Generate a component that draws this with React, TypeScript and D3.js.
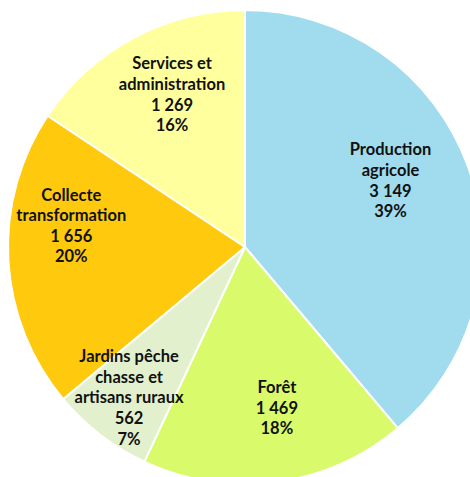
import React from "react";
import * as d3 from "d3";

const categories = [
  "Production agricole",
  "Forêt",
  "Jardins pêche chasse et artisans ruraux",
  "Collecte transformation",
  "Services et administration",
];
const labelLines = [
  ["Production", "agricole"],
  ["Forêt"],
  ["Jardins pêche", "chasse et", "artisans ruraux"],
  ["Collecte", "transformation"],
  ["Services et", "administration"],
];
const values = [3149, 1469, 562, 1656, 1269];
const colors = ["#A0DCEE", "#D9FB6B", "#E3F0CD", "#FFC90E", "#FFFF9E"];

const W = 470;
const H = 477;
const cx = 245;
const cy = 247;
const R = 237;
const labelRadius = [160, 164, 190, 175, 169];
const labelAngleOffset = [-4.5, -3.7, 0, 10.1, 2.6];

const fmt = d3.formatLocale({ decimal: ",", thousands: " ", grouping: [3], currency: ["", "€"] }).format(",d");

export default function App() {
  const total = d3.sum(values);
  const pie = d3.pie<number>().sort(null).value((d) => d)(values);
  const arc = d3.arc<d3.PieArcDatum<number>>().innerRadius(0).outerRadius(R);
  const lineH = 20.6;
  return (
    <svg width={W} height={H} style={{ position: "absolute", left: 0, top: 0 }}>
      <g transform={`translate(${cx},${cy})`}>
        {pie.map((p, i) => (
          <path key={i} d={arc(p) || ""} fill={colors[i]} stroke="#fff" strokeWidth={2} />
        ))}
        {pie.map((p, i) => {
          const a = (p.startAngle + p.endAngle) / 2 + (labelAngleOffset[i] * Math.PI) / 180;
          const r = labelRadius[i];
          const x = Math.sin(a) * r;
          const y = -Math.cos(a) * r;
          const lines = [...labelLines[i], fmt(values[i]), Math.round((values[i] / total) * 100) + "%"];
          const y0 = y - ((lines.length - 1) * lineH) / 2;
          return (
            <text
              key={"t" + i}
              textAnchor="middle"
              fontFamily="Lato, 'Open Sans', sans-serif"
              fontWeight="bold"
              fontSize={16.5}
              fill="#111"
            >
              {lines.map((l, j) => (
                <tspan key={j} x={x} y={y0 + j * lineH} dy="0.35em">
                  {l}
                </tspan>
              ))}
            </text>
          );
        })}
      </g>
    </svg>
  );
}
